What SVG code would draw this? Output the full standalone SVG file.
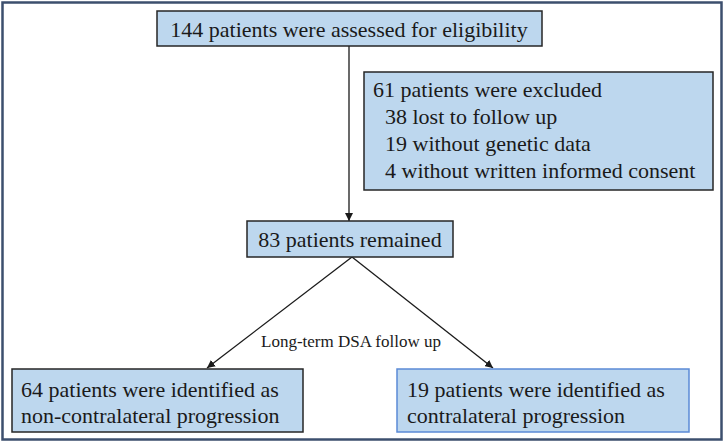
<svg xmlns="http://www.w3.org/2000/svg" width="725" height="443" viewBox="0 0 725 443">
<defs>
<style>
.box{fill:#bdd7ee;stroke:#262626;stroke-width:1.5}
.boxb{fill:#bdd7ee;stroke:#5b8ad6;stroke-width:1.5}
.t{font-family:'Liberation Serif','Times New Roman',serif;font-size:22px;fill:#1a1a1a}
.lbl{font-family:'Liberation Serif','Times New Roman',serif;font-size:17px;fill:#1a1a1a}
.c{stroke:#1a1a1a;stroke-width:1.3;fill:none}
</style>
<marker id="ah" viewBox="0 0 10 10" refX="10" refY="5" markerWidth="8" markerHeight="8" markerUnits="userSpaceOnUse" orient="auto">
<path d="M0,0 L10,5 L0,10 z" fill="#1a1a1a"/>
</marker>
</defs>
<rect x="0" y="0" width="725" height="443" fill="#ffffff"/>
<rect x="2.5" y="2.5" width="719" height="437" fill="none" stroke="#3c4f6e" stroke-width="2.5"/>
<g id="connectors">
<line class="c" x1="349" y1="46" x2="349" y2="221" marker-end="url(#ah)"/>
<line class="c" x1="352" y1="257" x2="207" y2="368" marker-end="url(#ah)"/>
<line class="c" x1="352" y1="257" x2="493" y2="368" marker-end="url(#ah)"/>
<text class="lbl" x="351" y="347" text-anchor="middle">Long-term DSA follow up</text>
</g>
<g id="assessed">
<rect class="box" x="157" y="11" width="385" height="35"/>
<text class="t" x="349" y="37" text-anchor="middle">144 patients were assessed for eligibility</text>
</g>
<g id="excluded">
<rect class="box" x="364" y="72" width="349" height="118"/>
<text class="t" x="373" y="97">61 patients were excluded</text>
<text class="t" x="385" y="124">38 lost to follow up</text>
<text class="t" x="385" y="151">19 without genetic data</text>
<text class="t" x="385" y="178">4 without written informed consent</text>
</g>
<g id="remained">
<rect class="box" x="247" y="221" width="206" height="36"/>
<text class="t" x="350" y="247" text-anchor="middle">83 patients remained</text>
</g>
<g id="noncontra">
<rect class="box" x="12" y="369" width="291" height="63"/>
<text class="t" x="21" y="397">64 patients were identified as</text>
<text class="t" x="21" y="423">non-contralateral progression</text>
</g>
<g id="contra">
<rect class="boxb" x="397" y="369" width="292" height="63"/>
<text class="t" x="407" y="397">19 patients were identified as</text>
<text class="t" x="407" y="423">contralateral progression</text>
</g>
</svg>
